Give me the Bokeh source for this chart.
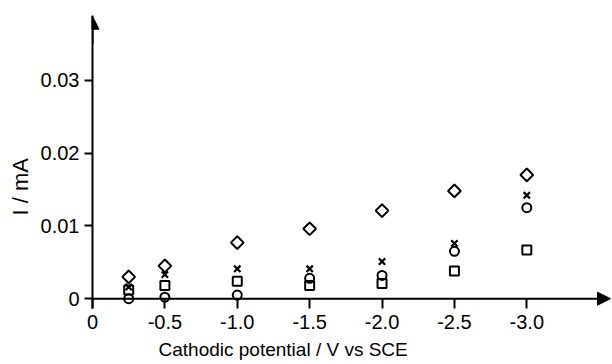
import math
from bokeh.plotting import figure
from bokeh.models import (Range1d, FixedTicker, CustomJSTickFormatter, Title,
                          Arrow, NormalHead)
from bokeh.embed import file_html
from bokeh.resources import INLINE

# data (cathodic potential in V vs SCE, current in mA)
potential = [-0.25, -0.5, -1.0, -1.5, -2.0, -2.5, -3.0]
series_diamond = [0.0030, 0.0045, 0.0077, 0.0096, 0.0121, 0.0148, 0.0170]
series_cross = [0.0016, 0.0033, 0.0041, 0.0041, 0.0051, 0.0076, 0.0142]
series_square = [0.0012, 0.0018, 0.0024, 0.0018, 0.0021, 0.0038, 0.0067]
series_circle = [0.0000, 0.0002, 0.0005, 0.0028, 0.0032, 0.0065, 0.0125]
x_ticks = [0, -0.5, -1.0, -1.5, -2.0, -2.5, -3.0]
y_ticks = [0, 0.01, 0.02, 0.03]

FONT = "Liberation Sans"

p = figure(width=612, height=364, output_backend="svg", toolbar_location=None,
           x_range=Range1d(0, -3.585), y_range=Range1d(-0.00135, 0.0389),
           min_border_left=92, min_border_right=1, min_border_top=15,
           min_border_bottom=0)
p.outline_line_color = None
p.grid.visible = False
p.background_fill_color = "white"
p.border_fill_color = "white"

for ax in (p.xaxis[0], p.yaxis[0]):
    ax.axis_line_width = 2
    ax.major_tick_line_width = 2
    ax.minor_tick_line_color = None
    ax.major_label_text_font = FONT
    ax.major_label_text_font_size = "20px"
    ax.major_label_text_color = "black"
    ax.axis_line_color = "black"
    ax.major_tick_line_color = "black"

xa = p.xaxis[0]
xa.axis_line_color = None          # the x axis line is drawn at I = 0 by the arrow below
xa.major_tick_in = 10
xa.major_tick_out = 0
xa.ticker = FixedTicker(ticks=x_ticks)
xa.formatter = CustomJSTickFormatter(code="return tick == 0 ? '0' : tick.toFixed(1);")
xa.major_label_standoff = 6

ya = p.yaxis[0]
ya.major_tick_in = 0
ya.major_tick_out = 8
ya.ticker = FixedTicker(ticks=y_ticks)
ya.formatter = CustomJSTickFormatter(code="return tick == 0 ? '0' : tick.toFixed(2);")
ya.major_label_standoff = 5

# markers
p.scatter(potential, series_diamond, marker="square", angle=math.pi / 4, size=9,
          line_color="black", line_width=2, fill_alpha=0)
p.scatter(potential, series_square, marker="square", size=9,
          line_color="black", line_width=2, fill_alpha=0)
p.scatter(potential, series_circle, marker="circle", size=9,
          line_color="black", line_width=2, fill_alpha=0)
p.scatter(potential, series_cross, marker="x", size=9,
          line_color="black", line_width=2.2)

# axis arrows
p.add_layout(Arrow(end=NormalHead(size=13, fill_color="black", line_color="black"),
                   x_start=0, y_start=0, x_end=-3.578, y_end=0,
                   line_width=2, line_color="black"))
p.add_layout(Arrow(end=NormalHead(size=13, fill_color="black", line_color="black"),
                   x_start=0, y_start=0.035, x_end=0, y_end=0.0388,
                   line_width=2, line_color="black"))

# axis titles
p.add_layout(Title(text="Cathodic potential / V vs SCE", align="left", offset=66,
                   text_font=FONT, text_font_size="19px", text_font_style="normal",
                   text_color="black"), "below")
p.add_layout(Title(text="I / mA", align="left", offset=93,
                   text_font=FONT, text_font_size="22px", text_font_style="normal",
                   text_color="black"), "left")

open("out.html", "w").write(file_html(p, INLINE))
